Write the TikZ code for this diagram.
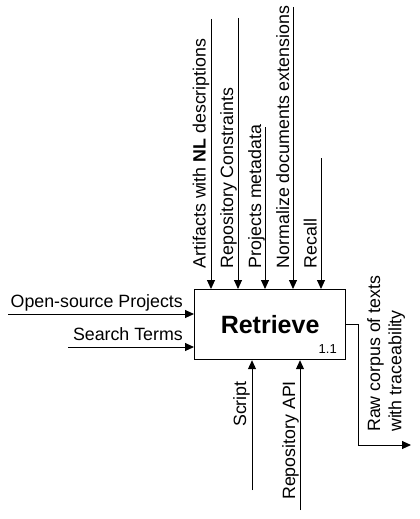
\documentclass[tikz,border=0pt]{standalone}
\usepackage{fontspec}
\setmainfont{Liberation Sans}
\usetikzlibrary{arrows.meta}
\newcommand{\lblfont}{\fontsize{17.8}{21.4}\selectfont}
\begin{document}
\begin{tikzpicture}[x=1pt,y=-1pt,
  lbl/.style={inner sep=0pt,font=\lblfont},
  vlbl/.style={lbl,rotate=90,anchor=base west},
  arr/.style={line width=1pt,-{Triangle[width=8pt,length=9pt]}}]
\fill[white] (0,0) rectangle (420,519);
\useasboundingbox (0,0) rectangle (420,519);
% main box
\node[draw,line width=1.2pt,minimum width=151pt,minimum height=70pt,inner sep=0pt,anchor=north west,
      font=\fontsize{25}{29}\selectfont\bfseries] (box) at (194,289) {Retrieve};
\node[lbl,anchor=base east,font=\fontsize{13}{15}\selectfont] (num) at (337,353) {1.1};
% inputs from left
\coordinate (i1) at (8,314);
\coordinate (i2) at (68,347);
\draw[arr] (i1) -- (i1 -| box.west);
\draw[arr] (i2) -- (i2 -| box.west);
\node[lbl,anchor=base east] (ti1) at (183,307) {Open-source Projects};
\node[lbl,anchor=base east] (ti2) at (183,340) {Search Terms};
% controls from top
\coordinate (c1) at (211,19);
\coordinate (c2) at (238,18);
\coordinate (c3) at (265,127);
\coordinate (c4) at (293,7);
\coordinate (c5) at (321,158);
\foreach \c in {c1,c2,c3,c4,c5}{\draw[arr] (\c) -- (\c |- box.north);}
\node[vlbl] (tc1) at (205.7,268.3) {Artifacts with \textbf{NL} descriptions};
\node[vlbl] (tc2) at (233,268.3) {Repository Constraints};
\node[vlbl] (tc3) at (261,268.3) {Projects metadata};
\node[vlbl] (tc4) at (289,268.3) {Normalize documents extensions};
\node[vlbl] (tc5) at (316.7,268.3) {Recall};
% mechanisms from bottom
\coordinate (m1) at (252,490);
\coordinate (m2) at (300,510);
\draw[arr] (m1) -- (m1 |- box.south);
\draw[arr] (m2) -- (m2 |- box.south);
\node[vlbl] (tm1) at (246,427) {Script};
\node[vlbl] (tm2) at (295,500) {Repository API};
% output
\coordinate (o0) at (box.east |- 0,324);
\coordinate (o1) at (358,324);
\coordinate (o2) at (358,445);
\coordinate (o3) at (411,445);
\draw[arr] (o0) -- (o1) -- (o2) -- (o3);
\node[vlbl] (to) at (380,432) {\lblfont\begin{tabular}[t]{@{}l@{}}Raw corpus of texts\\with traceability\end{tabular}};
\end{tikzpicture}
\end{document}
